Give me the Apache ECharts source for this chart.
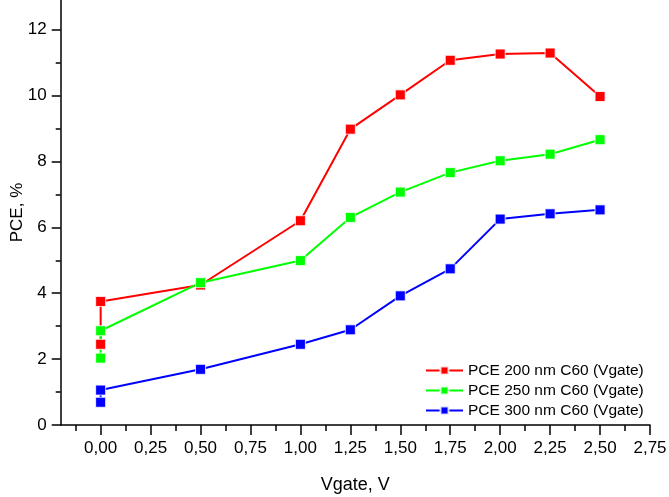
<!DOCTYPE html>
<html>
<head>
<meta charset="utf-8">
<script src="https://cdn.jsdelivr.net/npm/echarts@6/dist/echarts.min.js"></script>
<style>html,body{margin:0;padding:0;background:#fff}#c{width:669px;height:497px}</style>
</head>
<body>
<div id="c"></div>
<script>
var xValues = [0, 0, 0.5, 1.0, 1.25, 1.5, 1.75, 2.0, 2.25, 2.5];
var pce200 = [2.45, 3.75, 4.25, 6.20, 8.98, 10.02, 11.07, 11.26, 11.29, 9.97];
var pce250 = [2.03, 2.86, 4.32, 4.99, 6.30, 7.07, 7.66, 8.02, 8.22, 8.66];
var pce300 = [0.69, 1.06, 1.69, 2.45, 2.89, 3.92, 4.74, 6.25, 6.41, 6.53];
var seriesNames = ['PCE 200 nm C60 (Vgate)', 'PCE 250 nm C60 (Vgate)', 'PCE 300 nm C60 (Vgate)'];
var xTicks = [0, 0.25, 0.5, 0.75, 1.0, 1.25, 1.5, 1.75, 2.0, 2.25, 2.5, 2.75];
var xMinorTicks = [-0.125, 0.125, 0.375, 0.625, 0.875, 1.125, 1.375, 1.625, 1.875, 2.125, 2.375, 2.625];
var yTicks = [0, 2, 4, 6, 8, 10, 12];
var yMinorTicks = [1, 3, 5, 7, 9, 11];

function pairs(ys) { return xValues.map(function (x, i) { return [x, ys[i]]; }); }
var font = 'Liberation Sans, Arial, sans-serif';
var chart = echarts.init(document.getElementById('c'), null, { renderer: 'canvas' });
function mkSeries(name, ys, color) {
  return {
    name: name, type: 'line', data: pairs(ys), xAxisIndex: 0, yAxisIndex: 0,
    symbol: 'rect', symbolSize: 10, showAllSymbol: true,
    lineStyle: { color: color, width: 2 },
    itemStyle: { color: color, borderColor: 'rgba(255,255,255,0.8)', borderWidth: 1 },
    emphasis: { disabled: true }, animation: false
  };
}
var axisLineStyle = { color: '#000', width: 1.5 };
chart.setOption({
  animation: false,
  textStyle: { fontFamily: font, color: '#000' },
  grid: { left: 60.7, right: 19, top: 0, bottom: 72, containLabel: false, outerBoundsMode: 'none' },
  legend: {
    data: seriesNames, orient: 'vertical', left: 420, top: 357.5,
    itemWidth: 37, itemHeight: 10, itemGap: 4, itemTextGap: 4,
    textStyle: { fontFamily: font, fontSize: 15.5, color: '#000' }
  },
  xAxis: [{
    type: 'value', min: -0.2, max: 2.75, position: 'bottom',
    name: 'Vgate, V', nameLocation: 'middle', nameGap: 51, nameMoveOverlap: false,
    nameTextStyle: { fontFamily: font, fontSize: 18, color: '#000' },
    axisLine: { show: true, onZero: false, lineStyle: axisLineStyle },
    axisTick: { show: true, inside: false, length: 10, lineStyle: axisLineStyle, customValues: xTicks },
    axisLabel: { customValues: xTicks, margin: 15, fontSize: 17, color: '#000', fontFamily: font,
      formatter: function (v) { return v.toFixed(2).replace('.', ','); } },
    splitLine: { show: false }
  }, {
    type: 'value', min: -0.2, max: 2.75, position: 'bottom', gridIndex: 0,
    axisLine: { show: false, onZero: false },
    axisTick: { show: true, length: 6, lineStyle: axisLineStyle, customValues: xMinorTicks },
    axisLabel: { show: false }, splitLine: { show: false }
  }],
  yAxis: [{
    type: 'value', min: 0, max: 12.9, position: 'left',
    name: 'PCE, %', nameLocation: 'middle', nameGap: 35, nameMoveOverlap: false,
    nameTextStyle: { fontFamily: font, fontSize: 17, color: '#000' },
    axisLine: { show: true, onZero: false, lineStyle: axisLineStyle },
    axisTick: { show: true, length: 9, lineStyle: axisLineStyle, customValues: yTicks },
    axisLabel: { customValues: yTicks, margin: 14, fontSize: 17, color: '#000', fontFamily: font },
    splitLine: { show: false }
  }, {
    type: 'value', min: 0, max: 12.9, position: 'left', gridIndex: 0,
    axisLine: { show: false, onZero: false },
    axisTick: { show: true, length: 5, lineStyle: axisLineStyle, customValues: yMinorTicks },
    axisLabel: { show: false }, splitLine: { show: false }
  }],
  series: [
    mkSeries(seriesNames[0], pce200, '#ff0000'),
    mkSeries(seriesNames[1], pce250, '#00ff00'),
    mkSeries(seriesNames[2], pce300, '#0000ff')
  ]
});
</script>
</body>
</html>
